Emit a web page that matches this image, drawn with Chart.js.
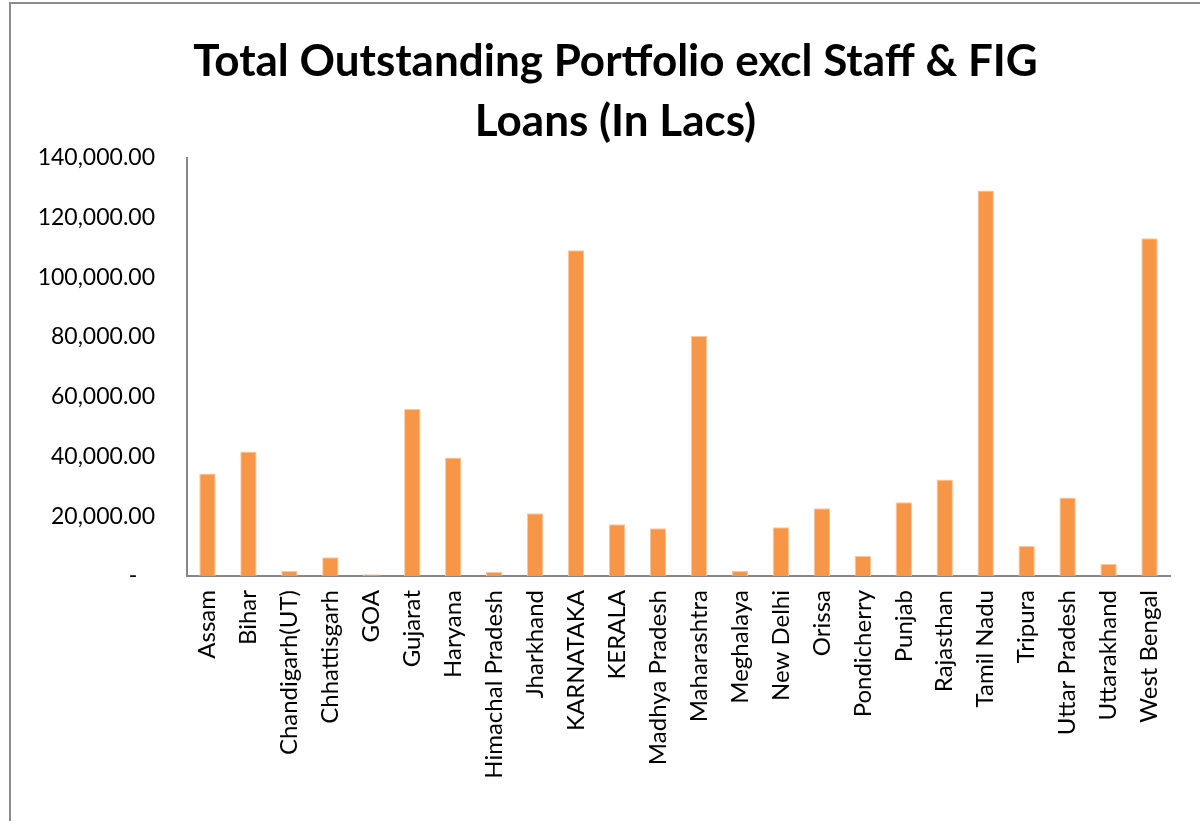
<!DOCTYPE html>
<html>
<head>
<meta charset="utf-8">
<script src="https://cdn.jsdelivr.net/npm/chart.js@4.4.1/dist/chart.umd.min.js"></script>
<style>
    html, body { margin: 0; padding: 0; background: #fff; }
    body { width: 1200px; height: 821px; overflow: hidden; position: relative; }
    #frame {
        position: absolute; left: 9px; top: 2px;
        width: 1200px; height: 830px;
        border: 2px solid #8c8c8c;
        box-sizing: border-box;
    }
    #wrap { position: absolute; left: 11px; top: 4px; width: 1189px; height: 817px; }
</style>
</head>
<body>
<div id="frame"></div>
<div id="wrap"><canvas id="portfolio-chart"></canvas></div>
<script>
// Outstanding portfolio by state (in Lacs)
const states = ['Assam', 'Bihar', 'Chandigarh(UT)', 'Chhattisgarh', 'GOA', 'Gujarat', 'Haryana',
    'Himachal Pradesh', 'Jharkhand', 'KARNATAKA', 'KERALA', 'Madhya Pradesh', 'Maharashtra',
    'Meghalaya', 'New Delhi', 'Orissa', 'Pondicherry', 'Punjab', 'Rajasthan', 'Tamil Nadu',
    'Tripura', 'Uttar Pradesh', 'Uttarakhand', 'West Bengal'];
const outstanding = [34300, 41700, 1700, 6300, 600, 56000, 39700, 1300, 21000, 109000, 17300,
    16000, 80300, 1700, 16300, 22700, 6700, 24700, 32300, 129000, 10000, 26300, 4000, 113000];
const titleLines = ['Total Outstanding Portfolio excl Staff & FIG', 'Loans (In Lacs)'];

const FONT = 'Lato, "Open Sans", sans-serif';

const ctx = document.getElementById('portfolio-chart');
new Chart(ctx.getContext('2d'), {
    type: 'bar',
    data: {
        labels: states,
        datasets: [{
            data: outstanding,
            backgroundColor: '#F79646',
            borderColor: '#FAC8A0',
            borderWidth: 1,
            barPercentage: 0.4,
            categoryPercentage: 1.0
        }]
    },
    options: {
        responsive: true,
        maintainAspectRatio: false,
        animation: false,
        layout: { padding: { left: 20, right: 0, top: 0, bottom: 0 } },
        plugins: {
            legend: { display: false },
            tooltip: { enabled: false },
            title: {
                display: true,
                text: titleLines,
                color: '#000',
                font: { family: FONT, size: 44, weight: 'bold', lineHeight: 1.36 },
                padding: { top: 28, bottom: 6 }
            }
        },
        scales: {
            x: {
                grid: { display: false, drawTicks: false },
                border: { display: true, color: '#868686', width: 2 },
                ticks: {
                    color: '#000',
                    font: { family: FONT, size: 24 },
                    maxRotation: 90,
                    minRotation: 90,
                    autoSkip: false,
                    padding: 14
                },
                afterFit: (scale) => { scale.height = 245; }
            },
            y: {
                min: 0,
                max: 140000,
                grid: { display: false, drawTicks: false },
                border: { display: true, color: '#868686', width: 2 },
                ticks: {
                    stepSize: 20000,
                    color: '#000',
                    font: { family: FONT, size: 23 },
                    padding: 32,
                    callback: (value) => value === 0 ? '-   ' :
                        value.toLocaleString('en-US', { minimumFractionDigits: 2, maximumFractionDigits: 2 })
                },
                afterFit: (scale) => { scale.width = 156; }
            },
            yRight: {
                position: 'right',
                display: true,
                grid: { display: false, drawTicks: false },
                border: { display: false },
                ticks: { display: false },
                afterFit: (scale) => { scale.width = 30; }
            }
        }
    }
});
</script>
</body>
</html>
